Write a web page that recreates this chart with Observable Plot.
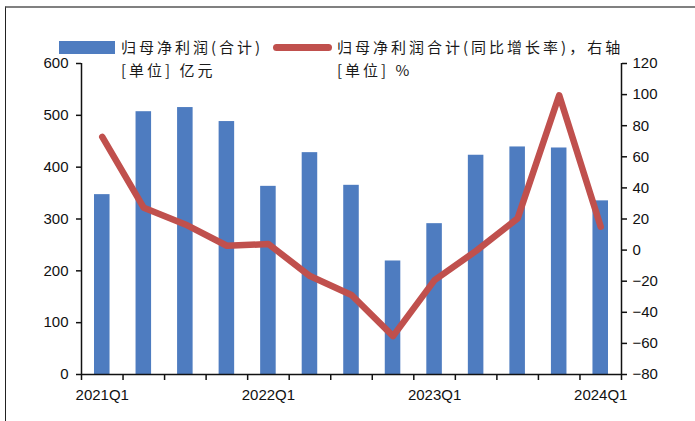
<!DOCTYPE html>
<html><head><meta charset="utf-8">
<script src="https://cdn.jsdelivr.net/npm/d3@7"></script>
<script src="https://cdn.jsdelivr.net/npm/@observablehq/plot@0.6"></script>
<style>
body{margin:0;background:#fff;}
#wrap{position:relative;width:695px;height:421px;overflow:hidden;background:#fff;}
#frame{position:absolute;left:5px;top:6px;right:0;bottom:0;border-top:2px solid #808080;border-left:1.5px solid #222;pointer-events:none;}
.lg{position:absolute;font-family:"Noto Sans CJK SC",sans-serif;font-size:15px;letter-spacing:3px;color:#1a1a1a;line-height:23px;white-space:nowrap;}
.sw{position:absolute;}
</style></head>
<body>
<div id="wrap">
  <div id="chart"></div>
  <div id="frame"></div>
  <div class="sw" style="left:59px;top:41px;width:56px;height:13px;background:#4e7cc0;"></div>
  <div class="lg" id="lg1" style="left:121px;top:35px;"></div>
  <div class="sw" style="left:273px;top:43.5px;width:59px;height:7px;border-radius:3.5px;background:#c0504d;"></div>
  <div class="lg" id="lg2" style="left:337px;top:35px;"></div>
</div>
<script>
const quarters = ["2021Q1","2021Q2","2021Q3","2021Q4","2022Q1","2022Q2","2022Q3","2022Q4","2023Q1","2023Q2","2023Q3","2023Q4","2024Q1"];
const profit = [347, 507, 515, 488, 363, 428, 365, 219, 291, 423, 439, 437, 335];
const growth = [72.8, 27.2, 16.5, 2.8, 3.9, -16.7, -28.9, -55.3, -19.3, -0.5, 20.4, 99.6, 15.0];
const leftTicks = [0, 100, 200, 300, 400, 500, 600];
const rightTicks = [-80, -60, -40, -20, 0, 20, 40, 60, 80, 100, 120];
const labelQuarters = ["2021Q1", "2022Q1", "2023Q1", "2024Q1"];
const legendBar = ["归母净利润(合计)", "[单位] 亿元"];
const legendLine = ["归母净利润合计(同比增长率)，右轴", "[单位] %"];

document.getElementById("lg1").innerHTML = legendBar.join("<br>");
document.getElementById("lg2").innerHTML = legendLine.join("<br>");

const data = quarters.map((q, i) => ({q, i, v: profit[i], g: growth[i]}));
const g2y = d3.scaleLinear([-80, 120], [0, 600]);
const fmt = v => { const r = Math.round(v); return r < 0 ? "\u2212" + Math.abs(r) : String(r); };

const chart = Plot.plot({
  width: 695, height: 421,
  marginTop: 63, marginBottom: 47, marginLeft: 81, marginRight: 74,
  x: {domain: [0, quarters.length], axis: null, label: null},
  y: {domain: [0, 600], axis: null, label: null},
  style: {fontFamily: "'Liberation Sans', Arial, sans-serif", fontSize: "15px", color: "#111", background: "transparent"},
  marks: [
    Plot.rectY(data, {x1: "i", x2: d => d.i + 1, y: "v", fill: "#4e7cc0", insetLeft: 13, insetRight: 13}),
    Plot.line(data, {x: d => d.i + 0.5, y: d => g2y(d.g), stroke: "#c0504d", strokeWidth: 6.5, strokeLinejoin: "round", strokeLinecap: "round"}),
    Plot.ruleX([0, quarters.length], {stroke: "#111", strokeWidth: 1.5}),
    Plot.ruleY([0], {stroke: "#111", strokeWidth: 1.5}),
    Plot.axisY({anchor: "left", label: null, ticks: leftTicks, tickSize: 5, tickPadding: 8, strokeWidth: 1.5, tickFormat: d => String(d)}),
    Plot.axisY({anchor: "right", label: null, ticks: rightTicks.map(g2y), tickSize: 5, tickPadding: 6, strokeWidth: 1.5, tickFormat: d => fmt(g2y.invert(d))}),
    Plot.axisX({label: null, ticks: d3.range(0, quarters.length + 1), tickSize: 6, strokeWidth: 1.5, tickFormat: () => ""}),
    Plot.axisX({label: null, ticks: labelQuarters.map(q => quarters.indexOf(q) + 0.5), tickSize: 0, tickPadding: 15, tickFormat: v => quarters[Math.floor(v)]})
  ]
});
document.getElementById("chart").appendChild(chart);
</script>
</body></html>
